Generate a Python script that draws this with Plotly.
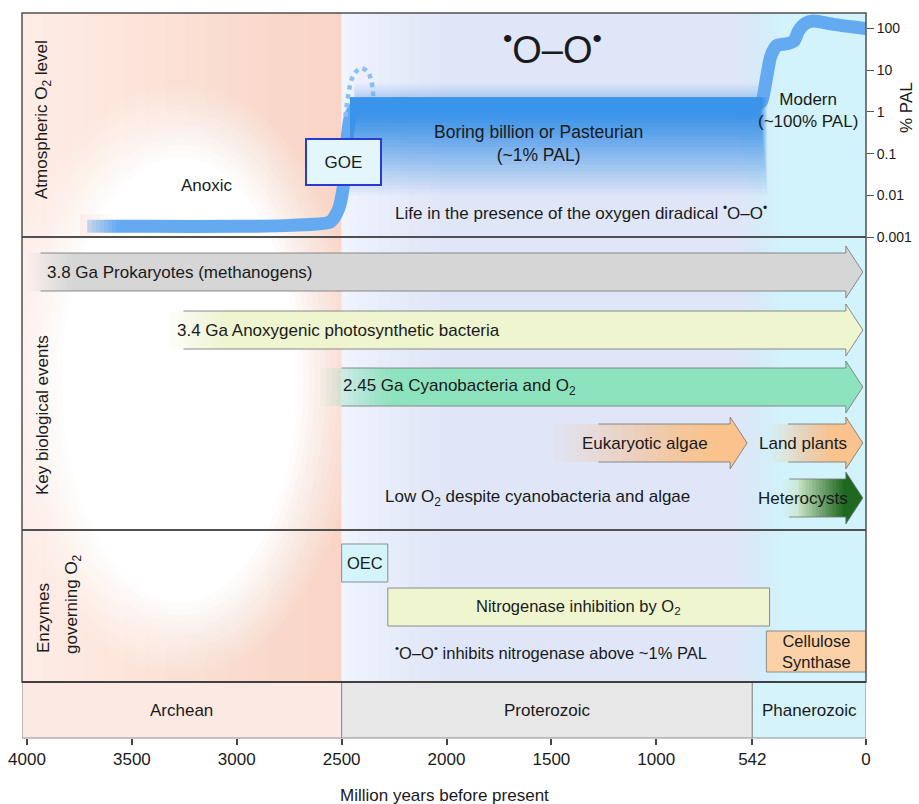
import numpy as np
import plotly.graph_objects as go

# ---------------- data ----------------
age_ticks = [4000, 3500, 3000, 2500, 2000, 1500, 1000, 542, 0]
age_tick_text = ["4000", "3500", "3000", "2500", "2000", "1500", "1000", "542", "0"]
pal_ticks = [0.001, 0.01, 0.1, 1, 10, 100]
pal_tick_text = ["0.001", "0.01", "0.1", "1", "10", "100"]

era_names = ["Archean", "Proterozoic", "Phanerozoic"]
era_start = [4024, 2500, 542]
era_end = [2500, 542, 0]

# atmospheric O2 (% PAL) through time (Myr before present)
o2_age = [3714, 3400, 3000, 2744, 2554, 2515, 2492, 2482, 2473, 2458, 2435, 2401, 2000,
          1500, 1000, 600, 520, 497, 473, 454, 426, 378, 343, 322, 290, 250, 155, 0]
o2_pal = [0.0018, 0.0018, 0.0018, 0.0019, 0.0023, 0.0046, 0.016, 0.061, 0.26, 0.78, 1.29, 1.5, 1.55,
          1.55, 1.55, 1.55, 1.55, 1.8, 7.2, 21.7, 39, 43, 50, 87, 132, 151, 126, 100]

goe_overshoot_age = [2482, 2468, 2449, 2411, 2377, 2358, 2349]
goe_overshoot_pal = [0.78, 2.6, 6.6, 11, 9.3, 5.4, 2.3]

boring_start, boring_end = 2450, 505
boring_top_pal, boring_core_pal, boring_floor_pal = 2.2, 0.8, 0.01

event_labels = ["3.8 Ga Prokaryotes (methanogens)",
                "3.4 Ga Anoxygenic photosynthetic bacteria",
                "2.45 Ga Cyanobacteria and O<sub>2</sub>",
                "Eukaryotic algae", "Land plants", "Heterocysts"]
event_start = [4000, 3340, 2600, 1490, 457, 395]
event_end = [15, 15, 15, 567, 15, 15]

enzyme_labels = ["OEC", "Nitrogenase inhibition by O<sub>2</sub>", "Cellulose<br>Synthase"]
enzyme_start = [2500, 2280, 475]
enzyme_end = [2280, 460, 0]

# ---------------- layout geometry / styles ----------------
W, H = 919, 804
ML, MR, MT, MB = 22, 53, 13, 66
PW, PH = W - ML - MR, H - MT - MB
X_LEFT = 4024.0
PXM = PW / X_LEFT
SPLIT = 237
DEC_PX = 41.7
L_BOT = -3.0
L_TOP = L_BOT + (SPLIT - MT) / DEC_PX
FONT = "Liberation Sans, Arial, Helvetica, sans-serif"
TXT = "#1a1a1a"

EVENT_ROW_Y = [272, 330, 387, 443, 443, 498]
EVENT_RGB = [(214, 214, 214), (238, 245, 207), (142, 227, 191), (250, 194, 140), (250, 194, 140), (205, 232, 200)]
EVENT_FADE_PX = [45, 60, 70, 150, 60, 20]
EVENT_LABEL = [("left", 18), ("left", 10), ("left", 20), ("center", -102), ("center", -60), ("center", -60)]
ENZ_Y = [(544, 582), (588, 626), (631, 672)]
ENZ_COLOR = ["#d4f4fb", "#eef5cf", "#fbd1a8"]


def myr_at(px):
    return (ML + PW - px) / PXM


def dx(p):
    return p / PXM


def pxp(px):
    return (px - ML) / PW


def pyp(py):
    return (MT + PH - py) / PH


def ly(py):
    return L_BOT + (SPLIT - py) / DEC_PX


shapes = []
annotations = []


def rgba(c, a=1.0):
    return f"rgba({c[0]},{c[1]},{c[2]},{a:.4f})"


def nested(boxes, rgb, cmax=1.0, xref="x", yref="y2", layer="below", kind="rect"):
    n = len(boxes)
    for k, (x0, x1, y0, y1) in enumerate(boxes):
        a = (cmax / n) / (1 - cmax * k / n)
        shapes.append(dict(type=kind, xref=xref, yref=yref, x0=x0, x1=x1, y0=y0, y1=y1,
                           fillcolor=rgba(rgb, min(a, 1)), line=dict(width=0), layer=layer))


def rect(x0, x1, y0, y1, fill, xref="x", yref="paper", layer="below", line=None):
    shapes.append(dict(type="rect", xref=xref, yref=yref, x0=x0, x1=x1, y0=y0, y1=y1,
                       fillcolor=fill, line=line or dict(width=0), layer=layer))


def ann(text, x, y, xref="paper", yref="paper", size=17, xanchor="center", yanchor="middle", **kw):
    d = dict(text=text, x=x, y=y, xref=xref, yref=yref, showarrow=False,
             xanchor=xanchor, yanchor=yanchor, font=dict(family=FONT, size=size, color=TXT))
    d.update(kw)
    annotations.append(d)


def annpx(text, px, py, **kw):
    ann(text, pxp(px), pyp(py), **kw)


FT, FB = pyp(MT), pyp(682)

# ---- backgrounds ----
# Archean
rect(X_LEFT, era_end[0], FB, FT, "rgb(253,239,233)")
N = 16
nested([(X_LEFT + (myr_at(330) - X_LEFT) * k / (N - 1), era_end[0], FB, FT) for k in range(N)],
       (250, 213, 199), cmax=1.0, yref="paper")
cy = 380
N = 12
boxes = []
for k in range(N):
    t = k / (N - 1)
    rx = 180 - (180 - 118) * t
    ry = 295 - (295 - 222) * t
    boxes.append((myr_at(180 - rx), myr_at(180 + rx), pyp(cy + ry), pyp(cy - ry)))
nested(boxes, (255, 255, 255), yref="paper", kind="circle")
# Proterozoic + Phanerozoic
rect(era_start[1], 0, FB, FT, "rgb(223,230,248)")
N = 10
nested([(era_start[1], myr_at(440 - (440 - 348) * k / (N - 1)), FB, FT) for k in range(N)],
       (241, 245, 253), cmax=0.95, yref="paper")
N = 10
nested([(myr_at(740 + (780 - 740) * k / (N - 1)), 0, FB, FT) for k in range(N)],
       (210, 243, 251), yref="paper")

# era bar
era_rgb = ["rgb(253,233,227)", "rgb(231,231,231)", "rgb(212,243,251)"]
for i in range(3):
    rect(era_start[i], era_end[i], pyp(738), pyp(682), era_rgb[i],
         line=dict(color="#8c8c8c", width=1))
    ann(era_names[i], (era_start[i] + era_end[i]) / 2, pyp(710), xref="x", size=17)

# ---- arrows (key biological events) ----
HB, HH, HEAD = 19, 26, 17
for i in range(len(event_labels)):
    xs, xt, yc = event_start[i], event_end[i], EVENT_ROW_Y[i]
    xb = xt + dx(HEAD)
    fade = dx(EVENT_FADE_PX[i])
    n = 14
    nested([(xs - fade * k / (n - 1), xb - dx(1), yc - HB, yc + HB) for k in range(n)], EVENT_RGB[i])
    head_rgb = EVENT_RGB[i]
    if i == 5:
        dark = (30, 104, 32)
        nested([(xs - (xs - xb) * (0.25 + 0.7 * k / (n - 1)), xb - dx(1), yc - HB, yc + HB) for k in range(n)], dark)
        head_rgb = dark
    shapes.append(dict(type="path", xref="x", yref="y2",
                       path=f"M {xb},{yc - HH} L {xt},{yc} L {xb},{yc + HH} Z",
                       fillcolor=rgba(head_rgb), line=dict(width=0), layer="below"))
    xo = xs - fade * 0.3
    shapes.append(dict(type="path", xref="x", yref="y2",
                       path=(f"M {xo},{yc - HB} L {xb},{yc - HB} L {xb},{yc - HH} L {xt},{yc} "
                             f"L {xb},{yc + HH} L {xb},{yc + HB} L {xo},{yc + HB}"),
                       fillcolor="rgba(0,0,0,0)", line=dict(color="rgba(120,120,120,0.85)", width=1),
                       layer="below"))
    mode, off = EVENT_LABEL[i]
    if mode == "left":
        ann(event_labels[i], xs - dx(off), yc, xref="x", yref="y2", xanchor="left", size=17)
    else:
        ann(event_labels[i], xt - dx(off), yc, xref="x", yref="y2", size=17)

# ---- enzymes ----
for i in range(len(enzyme_labels)):
    y0, y1 = ENZ_Y[i]
    rect(enzyme_start[i], enzyme_end[i], y0, y1, ENZ_COLOR[i], yref="y2",
         line=dict(color="#8c8c8c", width=1))
    ann(enzyme_labels[i], (enzyme_start[i] + enzyme_end[i]) / 2, (y0 + y1) / 2,
        xref="x", yref="y2", size=16.5)

# ---- boring billion band (top panel, log axis) ----
top = np.log10(boring_top_pal)
core = np.log10(boring_core_pal)
floor = np.log10(boring_floor_pal)
N = 24
nested([(boring_start + 10, boring_end - (35 * (N - 1 - k) / (N - 1)),
         floor + (core - floor) * (k / (N - 1)), top) for k in range(N)],
       (58, 148, 234), yref="y", layer="above")
N = 8
nested([(boring_start - 10, boring_end + 5, top, top + (ly(84) - top) * (1 - k / (N - 1)) + 0.01) for k in range(N)],
       (110, 168, 240), cmax=0.45, yref="y", layer="above")
# soft fade at the start of the O2 curve
N = 8
nested([(myr_at(80), myr_at(116 - (116 - 88) * k / (N - 1)), ly(240), ly(214)) for k in range(N)],
       (253, 239, 233), cmax=0.7, yref="y", layer="above")

# ---- frame ----
shapes.append(dict(type="rect", xref="paper", yref="paper", x0=0, x1=1, y0=FB, y1=FT,
                   line=dict(color="#505050", width=1.5), fillcolor="rgba(0,0,0,0)", layer="above"))
for yy in (SPLIT, 530):
    shapes.append(dict(type="line", xref="paper", yref="paper", x0=0, x1=1, y0=pyp(yy), y1=pyp(yy),
                       line=dict(color="#505050", width=2), layer="above"))
shapes.append(dict(type="line", xref="paper", yref="paper", x0=0, x1=1, y0=FB, y1=FB,
                   line=dict(color="#404040", width=2), layer="above"))

# ---- texts ----
annpx("<sup>•</sup>O–O<sup>•</sup>", 552, 47, size=38)
annpx("Anoxic", 207, 185, size=17)
annpx("GOE", 343.5, 162.5, size=17, width=71, height=42, borderpad=1, borderwidth=2,
      bordercolor="#2b3bd1", bgcolor="#e2f6fb")
annpx("Boring billion or Pasteurian<br>(~1% PAL)", 538, 144, size=17.5)
annpx("Modern<br>(~100% PAL)", 808, 110, size=17)
annpx("Life in the presence of the oxygen diradical <sup>•</sup>O–O<sup>•</sup>", 581, 212, size=17)
annpx("Low O<sub>2</sub> despite cyanobacteria and algae", 537, 498, size=17)
annpx("<sup>•</sup>O–O<sup>•</sup> inhibits nitrogenase above ~1% PAL", 551, 652, size=16.5)
annpx("Atmospheric O<sub>2</sub> level", 43, 120, size=17, textangle=-90)
annpx("Key biological events", 42, 415, size=17, textangle=-90)
annpx("Enzymes", 43, 618, size=17, textangle=-90)
annpx("governing O<sub>2</sub>", 73, 604, size=17, textangle=-90)
annpx("% PAL", 906, 108, size=17, textangle=-90)
annpx("Million years before present", 444, 795, size=17)

# ---------------- figure ----------------
fig = go.Figure()
fig.add_trace(go.Scatter(x=o2_age, y=np.log10(o2_pal), mode="lines", xaxis="x", yaxis="y",
                         line=dict(color="#64aaf0", width=13, shape="spline", smoothing=0.6),
                         hoverinfo="skip"))
fig.add_trace(go.Scatter(x=goe_overshoot_age, y=np.log10(goe_overshoot_pal), mode="lines",
                         xaxis="x", yaxis="y",
                         line=dict(color="#8cc0f4", width=4.5, dash="dot", shape="spline"),
                         hoverinfo="skip"))
fig.add_trace(go.Scatter(x=[], y=[], xaxis="x", yaxis="y2", mode="markers"))

fig.update_layout(
    width=W, height=H,
    margin=dict(l=ML, r=MR, t=MT, b=MB, autoexpand=False),
    paper_bgcolor="white", plot_bgcolor="rgba(0,0,0,0)",
    showlegend=False,
    xaxis=dict(domain=[0, 1], range=[X_LEFT, 0], anchor="y2", tickmode="array",
               tickvals=age_ticks, ticktext=age_tick_text, ticks="outside", ticklen=6,
               tickwidth=1.5, tickcolor="#444", showgrid=False, zeroline=False, showline=False,
               tickfont=dict(family=FONT, size=17, color=TXT)),
    yaxis=dict(domain=[pyp(SPLIT), 1], range=[L_BOT, L_TOP], anchor="x", side="right",
               tickmode="array", tickvals=list(np.log10(pal_ticks)), ticktext=pal_tick_text,
               ticks="outside", ticklen=7, tickcolor="#555", showgrid=False, zeroline=False,
               showline=False, tickfont=dict(family=FONT, size=14, color=TXT)),
    yaxis2=dict(domain=[0, pyp(SPLIT)], range=[MT + PH, SPLIT], anchor="x", visible=False,
                showgrid=False, zeroline=False),
    shapes=shapes, annotations=annotations,
)
fig.write_html("out.html", config={"displayModeBar": False})
with open("out.html", "r", encoding="utf-8") as f:
    html = f.read()
html = html.replace("<head>", "<head><style>html,body{margin:0;padding:0;overflow:hidden;}</style>", 1)
with open("out.html", "w", encoding="utf-8") as f:
    f.write(html)
